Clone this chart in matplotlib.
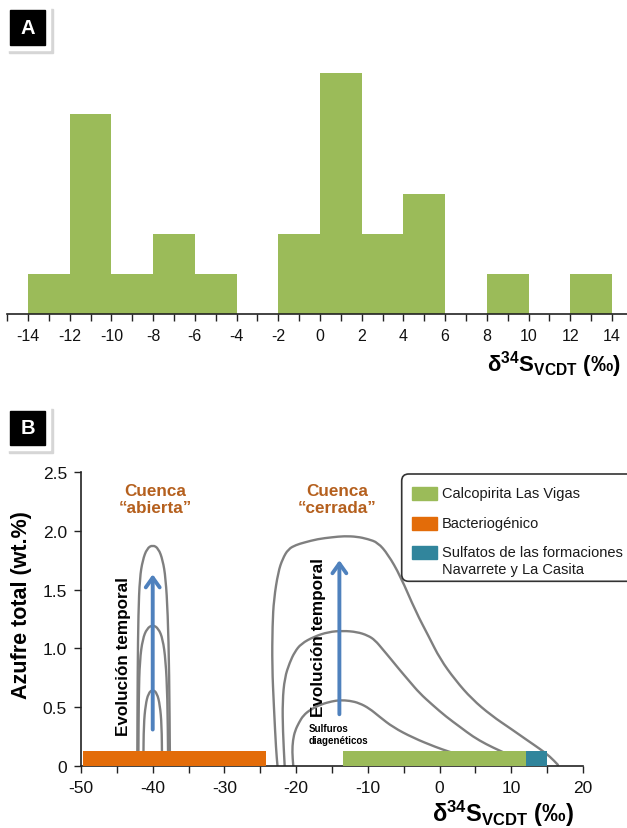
import matplotlib
matplotlib.use("Agg")
from matplotlib import pyplot as plt
from matplotlib.patches import Rectangle, FancyBboxPatch, PathPatch
from matplotlib.path import Path
from matplotlib.ticker import FixedLocator, FixedFormatter

plt.rcParams["font.family"] = ["Liberation Sans", "DejaVu Sans"]
plt.rcParams["mathtext.fontset"] = "custom"
plt.rcParams["mathtext.rm"] = "Liberation Sans"
plt.rcParams["mathtext.bf"] = "Liberation Sans:bold"
plt.rcParams["mathtext.it"] = "Liberation Sans:italic"
plt.rcParams["axes.unicode_minus"] = False

# --- panel A: histogram of d34S (counts per 2 permil bin)
bin_left = [-14, -12, -10, -8, -6, -4, -2, 0, 2, 4, 6, 8, 10, 12]
counts = [1, 5, 1, 2, 1, 0, 2, 6, 2, 3, 0, 1, 0, 1]
a_ticks = list(range(-14, 15, 2))

# --- panel B: source ranges (x from, x to)
bacterio = (-49.7, -24.2)
calcopirita = (-13.5, 12.0)
sulfatos = (12.0, 15.0)
bar_h = 0.13

# open basin arches
open1_x = [-42.15, -42.1, -42.0, -41.8, -41.4, -40.8, -40.0, -39.2, -38.6, -38.2, -37.9, -37.7, -37.6]
open1_y = [0.05, 0.8, 1.3, 1.6, 1.75, 1.85, 1.88, 1.85, 1.75, 1.6, 1.3, 0.8, 0.05]
open2_x = [-42.0, -41.95, -41.8, -41.4, -40.8, -40.0, -39.2, -38.6, -38.2, -37.95, -37.85]
open2_y = [0.05, 0.6, 0.9, 1.08, 1.17, 1.20, 1.17, 1.08, 0.9, 0.6, 0.05]
open3_x = [-41.3, -41.25, -41.0, -40.6, -40.0, -39.4, -39.0, -38.75, -38.7]
open3_y = [0.05, 0.35, 0.52, 0.62, 0.65, 0.62, 0.52, 0.35, 0.05]

# closed basin curves
closed1_x = [-22.6, -22.8, -23.1, -23.35, -23.3, -23.1, -22.5, -21.9, -21.1, -20.0, -18.9, -17.0, -15.0,
             -13.3, -11.5, -10.0, -8.6, -7.2, -5.5, -3.3, -1.5, 0.07, 2.2, 4.5, 7.2, 10.1, 12.2, 14.0, 15.4, 16.5]
closed1_y = [0.0, 0.14, 0.5, 0.85, 1.2, 1.42, 1.65, 1.76, 1.845, 1.88, 1.90, 1.93, 1.945,
             1.955, 1.95, 1.93, 1.90, 1.80, 1.62, 1.31, 1.10, 0.91, 0.73, 0.57, 0.43, 0.31, 0.22, 0.145, 0.08, 0.01]
closed2_x = [-21.6, -21.85, -21.9, -21.6, -20.9, -20.2, -19.3, -17.5, -15.5, -13.5, -11.5, -10.0, -9.0,
             -7.9, -6.8, -5.6, -4.2, -2.8, -1.0, 0.9, 2.9, 4.65, 6.5, 8.4, 9.5]
closed2_y = [0.0, 0.3, 0.55, 0.75, 0.88, 0.97, 1.04, 1.10, 1.14, 1.15, 1.14, 1.11, 1.07,
             0.99, 0.91, 0.82, 0.72, 0.62, 0.52, 0.42, 0.33, 0.25, 0.185, 0.13, 0.10]
closed3_x = [-20.4, -20.55, -20.45, -20.15, -19.6, -19.0, -18.0, -16.5, -15.0, -13.9, -12.5, -11.2,
             -9.8, -8.4, -6.5, -3.7, -0.5, 1.4, 2.5]
closed3_y = [0.0, 0.12, 0.22, 0.30, 0.37, 0.43, 0.48, 0.525, 0.55, 0.56, 0.555, 0.535,
             0.49, 0.42, 0.33, 0.24, 0.16, 0.12, 0.10]

arrow_open = (-40.0, 0.31, 1.63)
arrow_closed = (-13.97, 0.44, 1.75)

legend_labels = [["Calcopirita Las Vigas"], ["Bacteriogénico"],
                 ["Sulfatos de las formaciones", "Navarrete y La Casita"]]

GREEN = "#9BBB59"
ORANGE = "#E36C09"
TEAL = "#31859C"
GREY = "#7F7F7F"
BLUE = "#4F81BD"
BROWN = "#B5601E"

W, H = 627, 829
fig = plt.figure(figsize=(W / 100, H / 100), dpi=100)


def fx(px):
    return px / W


def fy(py):
    return 1 - py / H


def smooth_curve(ax, xs, ys, **kw):
    # quadratic bezier through the midpoints, drawn by matplotlib's Path
    pts = list(zip(xs, ys))
    verts = [pts[0], ((pts[0][0] + pts[1][0]) / 2, (pts[0][1] + pts[1][1]) / 2)]
    codes = [Path.MOVETO, Path.LINETO]
    for i in range(1, len(pts) - 1):
        mid = ((pts[i][0] + pts[i + 1][0]) / 2, (pts[i][1] + pts[i + 1][1]) / 2)
        verts += [pts[i], mid]
        codes += [Path.CURVE3, Path.CURVE3]
    verts.append(pts[-1])
    codes.append(Path.LINETO)
    ax.add_patch(PathPatch(Path(verts, codes), fill=False, **kw))


def panel_label(letter, top):
    # shadow, white frame, black square
    fig.patches.append(Rectangle((9 / 100, (H - top - 47) / 100), 44 / 100, 44 / 100,
                                 transform=fig.dpi_scale_trans, color="#d6d6d6", zorder=1))
    fig.patches.append(Rectangle((7 / 100, (H - top - 44) / 100), 43 / 100, 44 / 100,
                                 transform=fig.dpi_scale_trans, color="white", zorder=2))
    fig.patches.append(Rectangle((9.5 / 100, (H - top - 39) / 100), 35.5 / 100, 34.5 / 100,
                                 transform=fig.dpi_scale_trans, color="black", zorder=3))
    fig.text(fx(27.5), fy(top + 22), letter, color="white", fontsize=14.5, fontweight="bold",
             ha="center", va="center", zorder=4)


xlabel = "δ$^{\\mathbf{34}}$S$_{\\mathbf{VCDT}}$ (‰)"

# ---------------- panel A
ax_a = fig.add_axes([fx(7.14), fy(315), fx(627 - 7.14), 280 / H])
ax_a.bar(bin_left, counts, width=2, align="edge", color=GREEN, edgecolor="none")
ax_a.set_xlim(-15, -15 + (627 - 7.14) / 20.857)
ax_a.set_ylim(0, 280 / 40.1)
for s in ["top", "right", "left"]:
    ax_a.spines[s].set_visible(False)
ax_a.spines["bottom"].set_linewidth(1.2)
ax_a.spines["bottom"].set_color("#222222")
ax_a.set_yticks([])
ax_a.xaxis.set_major_locator(FixedLocator(a_ticks))
ax_a.xaxis.set_major_formatter(FixedFormatter([str(t) for t in a_ticks]))
ax_a.xaxis.set_minor_locator(FixedLocator([t + 1 for t in a_ticks] + [-15]))
ax_a.tick_params(axis="x", which="both", direction="out", length=5, width=1, color="#222222")
ax_a.tick_params(axis="x", which="major", labelsize=11.5, pad=5, labelcolor="#111111")
fig.text(fx(621), fy(371.7), xlabel, fontsize=16, fontweight="bold", ha="right", va="baseline")
panel_label("A", 7)

# ---------------- panel B
ax_b = fig.add_axes([fx(81), fy(767), 502 / W, 294 / H])
ax_b.set_xlim(-50, 20)
ax_b.set_ylim(0, 2.5)
for s in ["top", "right"]:
    ax_b.spines[s].set_visible(False)
for s in ["bottom", "left"]:
    ax_b.spines[s].set_linewidth(1.2)
    ax_b.spines[s].set_color("#222222")

for cx, cy in [(open1_x, open1_y), (open2_x, open2_y), (open3_x, open3_y),
               (closed1_x, closed1_y), (closed2_x, closed2_y), (closed3_x, closed3_y)]:
    smooth_curve(ax_b, cx, cy, edgecolor=GREY, lw=1.7, joinstyle="round", capstyle="round", zorder=2)

ax_b.barh(0, bacterio[1] - bacterio[0], left=bacterio[0], height=bar_h, align="edge", color=ORANGE, zorder=3)
ax_b.barh(0, calcopirita[1] - calcopirita[0], left=calcopirita[0], height=bar_h, align="edge", color=GREEN, zorder=3)
ax_b.barh(0, sulfatos[1] - sulfatos[0], left=sulfatos[0], height=bar_h, align="edge", color=TEAL, zorder=3)

for ax_x, y0, y1 in [arrow_open, arrow_closed]:
    ax_b.annotate("", xy=(ax_x, y1), xytext=(ax_x, y0),
                  arrowprops=dict(arrowstyle="->,head_length=0.7,head_width=0.5", color=BLUE, lw=2.8,
                                  shrinkA=0, shrinkB=0), zorder=4)

ax_b.text(-39.6, 2.27, "Cuenca\n“abierta”", color=BROWN, fontsize=12.3, fontweight="bold",
          ha="center", va="center", linespacing=1.15)
ax_b.text(-14.3, 2.27, "Cuenca\n“cerrada”", color=BROWN, fontsize=12.3, fontweight="bold",
          ha="center", va="center", linespacing=1.15)
ax_b.text(-44.1, 0.94, "Evolución temporal", rotation=90, fontsize=12.3, fontweight="bold",
          ha="center", va="center")
ax_b.text(-16.9, 1.10, "Evolución temporal", rotation=90, fontsize=12.3, fontweight="bold",
          ha="center", va="center")
ax_b.text(-18.2, 0.27, "Sulfuros\ndiagenéticos", fontsize=7, fontweight="bold", ha="left", va="center",
          linespacing=1.2)

ax_b.xaxis.set_major_locator(FixedLocator(range(-50, 21, 10)))
ax_b.xaxis.set_minor_locator(FixedLocator(range(-45, 20, 10)))
ax_b.yaxis.set_major_locator(FixedLocator([0, 0.5, 1.0, 1.5, 2.0, 2.5]))
ax_b.yaxis.set_major_formatter(FixedFormatter(["0", "0.5", "1.0", "1.5", "2.0", "2.5"]))
ax_b.tick_params(which="both", direction="out", length=5, width=1, color="#222222")
ax_b.tick_params(which="major", labelsize=12.5, labelcolor="#111111")
ax_b.tick_params(axis="x", pad=5)
ax_b.tick_params(axis="y", pad=5)

fig.text(fx(21.7), fy(605), "Azufre total (wt.%)", rotation=90, fontsize=15.5, fontweight="bold",
         ha="center", va="center")
fig.text(fx(574), fy(821.5), xlabel, fontsize=17, fontweight="bold", ha="right", va="baseline")
panel_label("B", 407)

# legend drawn by hand (its frame runs off the right edge)
fig.patches.append(FancyBboxPatch((401.7 / 100, (H - 582.3) / 100), 2.6, 107.3 / 100,
                                  boxstyle="round,pad=0,rounding_size=0.07",
                                  transform=fig.dpi_scale_trans, facecolor="white",
                                  edgecolor="#333333", lw=1.2, zorder=5))
legend_colors = [GREEN, ORANGE, TEAL]
legend_rows = [494.5, 524.0, 553.3]
line_step = 16.7
for col, row, lines in zip(legend_colors, legend_rows, legend_labels):
    fig.patches.append(Rectangle((411.7 / 100, (H - row - 6.5) / 100), 25 / 100, 13 / 100,
                                 transform=fig.dpi_scale_trans, color=col, zorder=6))
    for k, lab in enumerate(lines):
        fig.text(fx(441.7), fy(row + k * line_step), lab, fontsize=10.5, ha="left", va="center",
                 color="#1a1a1a", zorder=7)

fig.savefig("out.png", dpi=100)
